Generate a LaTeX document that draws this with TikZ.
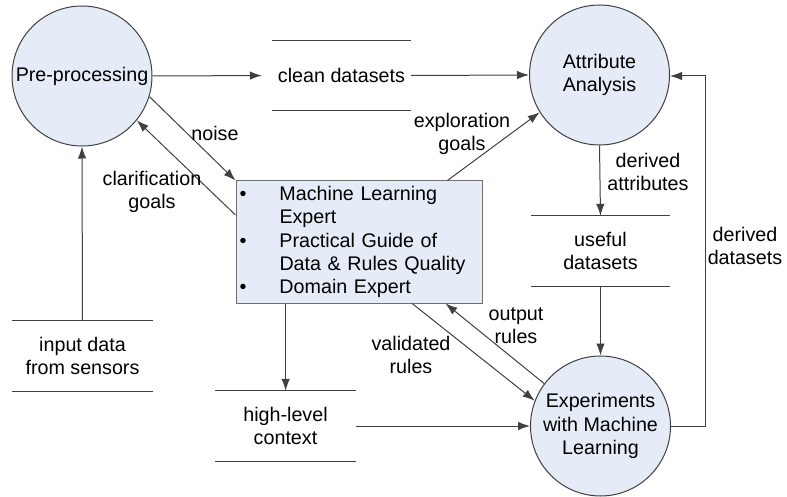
\documentclass[tikz,border=0pt]{standalone}
\usepackage{fontspec}
\setmainfont{Liberation Sans}
\usetikzlibrary{arrows.meta,calc}
\definecolor{bubble}{HTML}{E6ECF7}
\definecolor{ink}{HTML}{404040}
\definecolor{boxline}{HTML}{707070}
\begin{document}
\begin{tikzpicture}[x=1pt,y=-1pt,
  every node/.style={font=\fontsize{19.7pt}{23.3pt}\selectfont, text=black},
  proc/.style={circle, draw=ink, fill=bubble, line width=1pt, minimum size=140pt, inner sep=0pt, align=center},
  store/.style={draw=none, inner sep=0pt, align=center},
  storeline/.style={draw=ink, line width=1pt},
  arr/.style={draw=ink, line width=1pt, -{Latex[length=12pt,width=8.5pt]}},
  lbl/.style={align=center, inner sep=0pt},
  expertbox/.style={draw=boxline, fill=bubble, line width=1pt, minimum height=122pt, text width=239pt, inner xsep=3.5pt, inner ysep=0pt, align=left}
]
\useasboundingbox (0,0) rectangle (787,497);

% processes
\node[proc] (pre) at (82,76) {Pre-processing};
\node[proc] (aa) at (599.5,75) {Attribute\\Analysis};
\node[proc] (exp) at (600.5,426) {Experiments\\with Machine\\Learning};

% stores
\node[store, minimum width=139pt, minimum height=69pt] (clean) at (341.5,75.5) {clean datasets};
\node[store, minimum width=139pt, minimum height=70pt] (useful) at (600.5,251) {useful\\datasets};
\node[store, minimum width=141pt, minimum height=70pt] (input) at (82.5,356) {input data\\from sensors};
\node[store, minimum width=141pt, minimum height=70pt] (hl) at (285.5,426) {high-level\\context};
\foreach \s in {clean,useful,input,hl}{
  \draw[storeline] (\s.north west) -- (\s.north east);
  \draw[storeline] (\s.south west) -- (\s.south east);
}

% expert box
\node[expertbox] (box) at (359,242) {\makebox[40pt][l]{\textbullet}Machine Learning\\
\hspace*{40pt}Expert\\
\makebox[40pt][l]{\textbullet}Practical Guide of\\
\hspace*{40pt}Data \& Rules Quality\\
\makebox[40pt][l]{\textbullet}Domain Expert};

% connectors
\draw[arr, shorten >=10pt] (pre.east) -- (clean.west);
\draw[arr] (clean.east) -- (aa.west);
\draw[arr] (pre.-17) -- (box.north west);
\draw[arr] ([yshift=27pt]box.west) -- (pre.-39);
\draw[arr] ($(box.north west)!0.858!(box.north east)$) -- (aa.212);
\draw[arr] (aa.south) -- (useful.north);
\draw[arr] (useful.south) -- (exp.north);
\draw[arr] (input.north) -- (pre.south);
\draw[arr] ($(box.south west)!0.203!(box.south east)$) -- (hl.north -| {$(box.south west)!0.203!(box.south east)$});
\draw[arr] (hl.east) -- (exp.west);
\draw[arr] ($(box.south west)!0.715!(box.south east)$) -- (exp.159);
\draw[arr] (exp.143) -- ($(box.south west)!0.85!(box.south east)$);
\coordinate (ddcorner) at (705,76);
\draw[arr] (exp.east) -| (ddcorner) -- (aa.east |- ddcorner);

% labels
\node[lbl] (lnoise) at (215,133) {noise};
\node[lbl] (lclar) at (152,192) {clarification\\goals};
\node[lbl] (lexpl) at (462,134) {exploration\\goals};
\node[lbl] (lda) at (648,172) {derived\\attributes};
\node[lbl] (ldd) at (745,246) {derived\\datasets};
\node[lbl] (lval) at (411,355) {validated\\rules};
\node[lbl] (lout) at (516,326) {output\\rules};
\end{tikzpicture}
\end{document}
